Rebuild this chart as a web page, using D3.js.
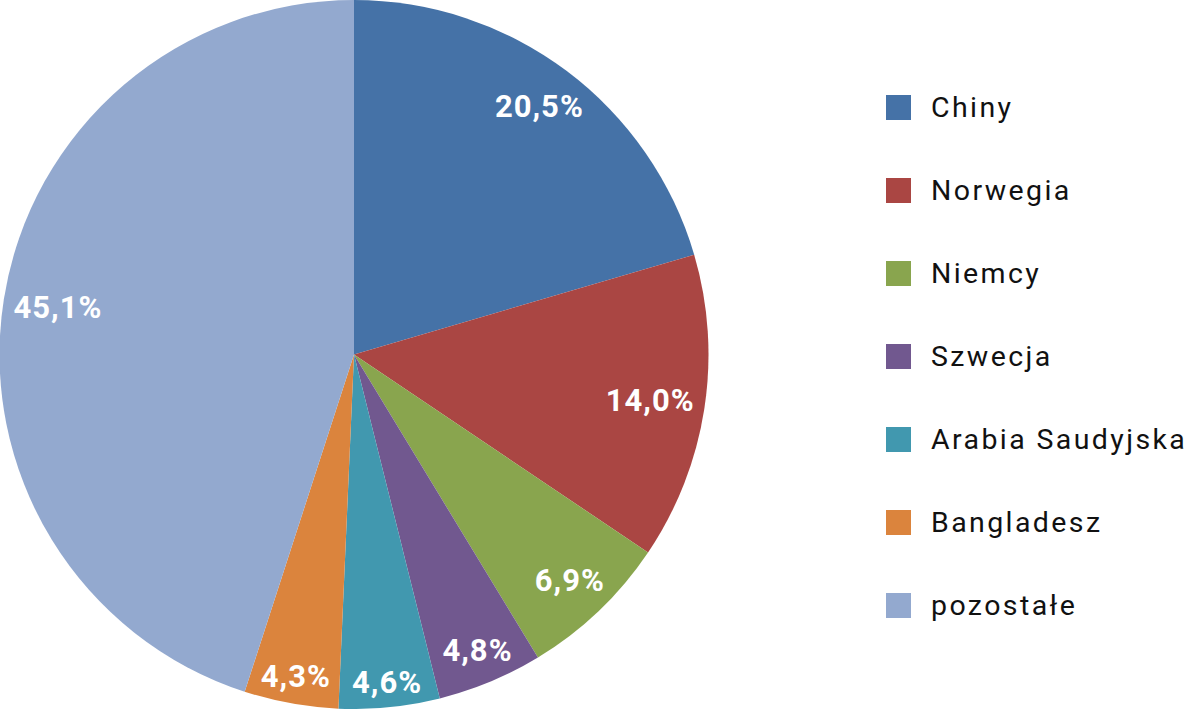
<!DOCTYPE html>
<html><head><meta charset="utf-8">
<script src="https://cdn.jsdelivr.net/npm/d3@7/dist/d3.min.js"></script>
<style>html,body{margin:0;padding:0;background:#fff;}svg{display:block;}</style>
</head><body>
<svg id="chart" width="1188" height="709"></svg>
<script>
const categories = ["Chiny","Norwegia","Niemcy","Szwecja","Arabia Saudyjska","Bangladesz","pozostałe"];
const values = [20.5, 14.0, 6.9, 4.8, 4.6, 4.3, 45.1];
const labels = ["20,5%","14,0%","6,9%","4,8%","4,6%","4,3%","45,1%"];
const colors = ["#4572A7","#AA4643","#89A54E","#71588F","#4198AF","#DB843D","#93A9CF"];

const svg = d3.select("#chart");
const cx = 354, cy = 354.5, R = 354.5;
const data = categories.map((c,i)=>({cat:c, value:values[i], label:labels[i]}));
const pie = d3.pie().value(d=>d.value).sort(null);
const arcs = pie(data);
const arc = d3.arc().innerRadius(0).outerRadius(R);
const color = d3.scaleOrdinal().domain(categories).range(colors);

const g = svg.append("g").attr("transform",`translate(${cx},${cy})`);
g.selectAll("path").data(arcs).join("path")
  .attr("d",arc).attr("fill",d=>color(d.data.cat));

const lbl = g.selectAll("text.lbl").data(arcs).join("text")
  .attr("class","lbl")
  .attr("font-family","Roboto, sans-serif")
  .attr("font-weight","700")
  .attr("font-size","31px")
  .attr("letter-spacing","1px")
  .attr("fill","#fff")
  .attr("text-anchor","middle")
  .attr("dominant-baseline","central")
  .text(d=>d.data.label);
// inside-end placement: box touches the outer edge minus padding
const pad = 9;
lbl.each(function(d){
  const bb = this.getBBox();
  const a = (d.startAngle+d.endAngle)/2;
  const ux = Math.sin(a), uy = -Math.cos(a);
  const support = Math.abs(ux)*bb.width/2 + Math.abs(uy)*24/2;
  const r = R - pad - support;
  d3.select(this).attr("x", ux*r).attr("y", uy*r);
});

const leg = svg.append("g").attr("transform","translate(886,95)");
const row = leg.selectAll("g").data(categories).join("g")
  .attr("transform",(d,i)=>`translate(0,${i*83})`);
row.append("rect").attr("width",25).attr("height",25).attr("fill",d=>color(d));
row.append("text").attr("x",45).attr("y",22)
  .attr("font-family","Roboto, sans-serif")
  .attr("font-size","28.5px")
  .attr("letter-spacing","2.4px")
  .attr("fill","#111")
  .text(d=>d);
</script>
</body></html>
